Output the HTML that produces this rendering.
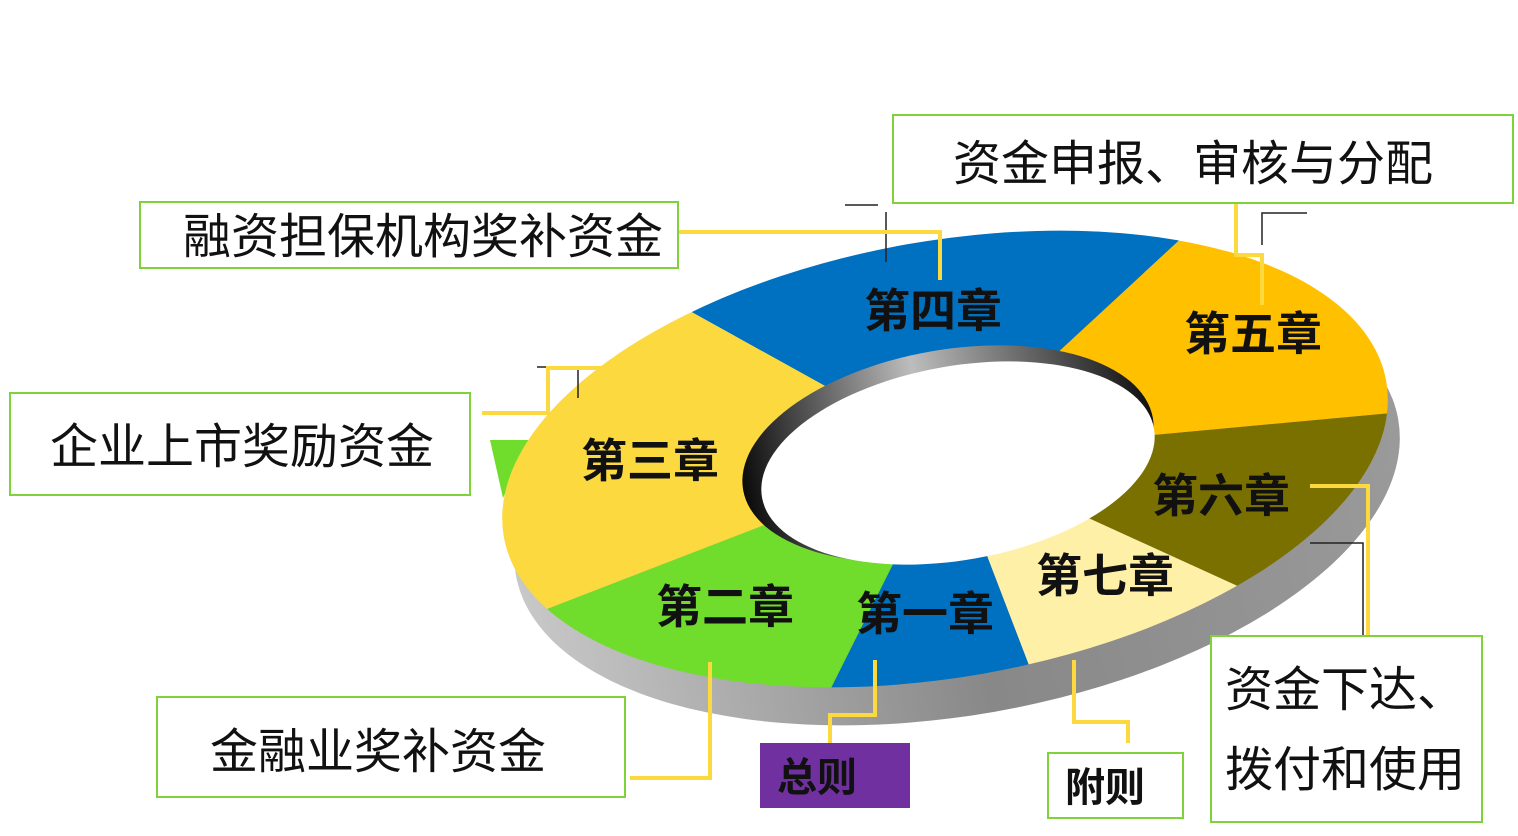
<!DOCTYPE html>
<html><head><meta charset="utf-8"><style>
html,body{margin:0;padding:0;background:#fff;width:1518px;height:836px;overflow:hidden;}
svg{display:block;}
text{font-family:"Liberation Sans","Noto Sans CJK SC",sans-serif;}
.b{font-weight:bold;font-size:46px;fill:#111;}
.l{font-size:48px;fill:#111;}
</style></head><body>
<svg width="1518" height="836" viewBox="0 0 1518 836" xmlns="http://www.w3.org/2000/svg">
<defs>
<linearGradient id="base" x1="0" y1="0" x2="1" y2="0">
<stop offset="0" stop-color="#c8c8c8"/><stop offset="0.5" stop-color="#888"/><stop offset="1" stop-color="#9a9a9a"/>
</linearGradient>
<linearGradient id="wall" x1="0" y1="0" x2="1" y2="0">
<stop offset="0" stop-color="#0a0a0a"/><stop offset="0.45" stop-color="#bdbdbd"/><stop offset="1" stop-color="#111"/>
</linearGradient>
<clipPath id="outer"><ellipse cx="945" cy="459" rx="448" ry="218" transform="rotate(-10 945 459)"/></clipPath>
</defs>
<ellipse cx="957" cy="497" rx="448" ry="218" transform="rotate(-10 957 497)" fill="url(#base)"/>
<polygon points="490,440 530,440 503,498" fill="#70dc2c"/>
<g clip-path="url(#outer)">
<polygon points="948,454 482,196 948,-500 1422,16" fill="#0070c0"/>
<polygon points="948,454 1422,16 1900,0 1792,376" fill="#ffc000"/>
<polygon points="948,454 1792,376 1492,702" fill="#7a7000"/>
<polygon points="948,454 1492,702 1102,856" fill="#fff0a8"/>
<polygon points="948,454 1102,856 712,926" fill="#0070c0"/>
<polygon points="948,454 712,926 192,746" fill="#70dc2c"/>
<polygon points="948,454 192,746 0,400 482,196" fill="#fdd940"/>
</g>
<ellipse cx="948" cy="454" rx="208" ry="104" transform="rotate(-10 948 454)" fill="url(#wall)"/>
<ellipse cx="958" cy="463" rx="199" ry="97" transform="rotate(-10 958 463)" fill="#fff"/>
<text class="b" x="864" y="327">第四章</text>
<text class="b" x="1184" y="350">第五章</text>
<text class="b" x="581" y="477">第三章</text>
<text class="b" x="1152" y="512">第六章</text>
<text class="b" x="1036" y="592">第七章</text>
<text class="b" x="656" y="623">第二章</text>
<text class="b" x="856" y="630">第一章</text>
<g stroke="#222" stroke-width="1.5" fill="none">
<path d="M845 205H878M886 212V262"/>
<path d="M1307 213H1262V245"/>
<path d="M537 367H548M578 370V398"/>
<path d="M1310 543H1363V640H1422"/>
</g>
<g stroke="#fdd940" stroke-width="4" fill="none">
<path d="M678 232H940V280"/>
<path d="M1236 203V255H1262V305"/>
<path d="M482 413H548V368H625"/>
<path d="M1310 486H1368V640"/>
<path d="M630 778H710V662"/>
<path d="M830 743V715H875V660"/>
<path d="M1128 743V722H1074V660"/>
</g>
<g fill="#fff" stroke="#7ed33a" stroke-width="2">
<rect x="140" y="202" width="538" height="66"/>
<rect x="893" y="115" width="620" height="88"/>
<rect x="10" y="393" width="460" height="102"/>
<rect x="157" y="697" width="468" height="100"/>
<rect x="1048" y="753" width="135" height="65"/>
<rect x="1211" y="636" width="271" height="186"/>
</g>
<rect x="760" y="743" width="150" height="65" fill="#7030a0"/>
<text class="l" x="183" y="253">融资担保机构奖补资金</text>
<text class="l" x="953" y="180">资金申报、审核与分配</text>
<text class="l" x="50" y="463">企业上市奖励资金</text>
<text class="l" x="210" y="768">金融业奖补资金</text>
<text class="l" x="1225" y="706">资金下达、</text>
<text class="l" x="1225" y="786">拨付和使用</text>
<text class="b" x="777" y="791" style="font-size:40px">总则</text>
<text class="b" x="1065" y="801" style="font-size:40px">附则</text>
</svg>
</body></html>
